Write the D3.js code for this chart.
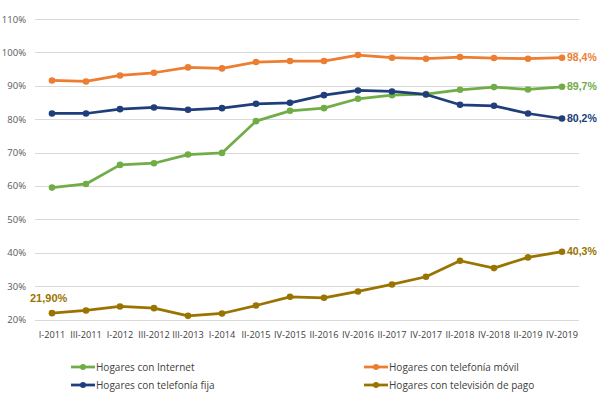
<!DOCTYPE html>
<html>
<head>
  <meta charset="utf-8">
  <title>Hogares con servicios</title>
  <style>
    body { margin: 0; background: #ffffff; }
    svg { font-family: "Open Sans", "Liberation Sans", sans-serif; }
  </style>
</head>
<body>
  <div id="chart"></div>

  <script src="https://d3js.org/d3.v7.min.js"></script>
  <script>
    // Periods on the x axis
    var periods = ["I-2011", "III-2011", "I-2012", "III-2012", "III-2013", "I-2014",
      "II-2015", "IV-2015", "II-2016", "IV-2016", "II-2017", "IV-2017",
      "II-2018", "IV-2018", "II-2019", "IV-2019"];

    // Series values (percent)
    var internet = [59.5, 60.6, 66.3, 66.8, 69.4, 69.9, 79.4, 82.5, 83.3, 86.1, 87.2, 87.5, 88.8, 89.6, 88.9, 89.7];
    var movil = [91.6, 91.3, 93.1, 93.9, 95.5, 95.2, 97.1, 97.4, 97.4, 99.2, 98.4, 98.1, 98.6, 98.3, 98.1, 98.4];
    var fija = [81.7, 81.7, 83.0, 83.5, 82.8, 83.3, 84.6, 84.9, 87.2, 88.6, 88.3, 87.4, 84.3, 84.0, 81.7, 80.2];
    var pago = [21.9, 22.7, 23.9, 23.4, 21.1, 21.8, 24.2, 26.8, 26.5, 28.4, 30.5, 32.8, 37.6, 35.4, 38.6, 40.3];

    var yTicks = [20, 30, 40, 50, 60, 70, 80, 90, 100, 110];

    var series = [
      { name: "Hogares con Internet", values: internet, color: "#70ad47", end: "89,7%" },
      { name: "Hogares con telefonía móvil", values: movil, color: "#ed7d31", end: "98,4%" },
      { name: "Hogares con telefonía fija", values: fija, color: "#203f7a", end: "80,2%" },
      { name: "Hogares con televisión de pago", values: pago, color: "#9a7400", end: "40,3%" }
    ];

    var width = 600, height = 395;

    var svg = d3.select("#chart")
      .append("svg")
      .attr("width", width)
      .attr("height", height);

    var x = d3.scaleBand()
      .domain(periods)
      .range([35, 579]);

    var y = d3.scaleLinear()
      .domain([20, 110])
      .range([319.5, 19]);

    // Gridlines
    svg.append("g")
      .selectAll("line")
      .data(yTicks)
      .enter()
      .append("line")
      .attr("x1", 35)
      .attr("x2", 579)
      .attr("y1", function(d) { return Math.round(y(d)) + 0.5; })
      .attr("y2", function(d) { return Math.round(y(d)) + 0.5; })
      .attr("stroke", "#d9d9d9")
      .attr("stroke-width", 1);

    // Y axis labels
    var yAxis = d3.axisLeft(y)
      .tickValues(yTicks)
      .tickSize(0)
      .tickPadding(4)
      .tickFormat(function(d) { return d + "%"; });

    svg.append("g")
      .attr("transform", "translate(30,0)")
      .call(yAxis)
      .call(function(g) { g.select(".domain").remove(); })
      .selectAll("text")
      .attr("fill", "#595959")
      .style("font-size", "9.5px")
      .style("font-family", "'Open Sans', sans-serif");

    // X axis labels
    var xAxis = d3.axisBottom(x).tickSize(0).tickPadding(0);

    svg.append("g")
      .attr("transform", "translate(0,331)")
      .call(xAxis)
      .call(function(g) { g.select(".domain").remove(); })
      .selectAll("text")
      .attr("fill", "#404040")
      .style("font-size", "9.2px")
      .style("font-family", "'Open Sans', sans-serif");

    var cx = function(d, i) { return x(periods[i]) + x.bandwidth() / 2; };

    var line = d3.line()
      .x(function(d, i) { return cx(d, i); })
      .y(function(d) { return y(d); });

    // Lines and markers
    series.forEach(function(s) {
      var g = svg.append("g");
      g.append("path")
        .datum(s.values)
        .attr("d", line)
        .attr("fill", "none")
        .attr("stroke", s.color)
        .attr("stroke-width", 2.75)
        .attr("stroke-linejoin", "round");

      g.selectAll("circle")
        .data(s.values)
        .enter()
        .append("circle")
        .attr("cx", cx)
        .attr("cy", function(d) { return y(d); })
        .attr("r", 3.3)
        .attr("fill", s.color);

      var last = s.values.length - 1;
      g.append("text")
        .attr("x", cx(null, last) + 5)
        .attr("y", y(s.values[last]))
        .attr("dy", "0.35em")
        .attr("fill", s.color)
        .style("font-size", "10.5px")
        .style("font-weight", "bold")
        .style("font-family", "'Liberation Sans', sans-serif")
        .text(s.end);
    });

    // First value label of televisión de pago
    svg.append("text")
      .attr("x", 30)
      .attr("y", y(pago[0]) - 11)
      .attr("fill", "#9a7400")
      .style("font-size", "11px")
      .style("font-weight", "bold")
      .style("font-family", "'Liberation Sans', sans-serif")
      .text("21,90%");

    // Legend
    var legendPos = [
      { x: 71, y: 367 },
      { x: 364, y: 367 },
      { x: 71, y: 385 },
      { x: 364, y: 385 }
    ];

    series.forEach(function(s, i) {
      var p = legendPos[i];
      var lg = svg.append("g").attr("transform", "translate(" + p.x + "," + p.y + ")");
      lg.append("line")
        .attr("x1", 0).attr("x2", 24)
        .attr("y1", 0).attr("y2", 0)
        .attr("stroke", s.color)
        .attr("stroke-width", 2.75);
      lg.append("circle")
        .attr("cx", 12).attr("cy", 0).attr("r", 3)
        .attr("fill", s.color);
      lg.append("text")
        .attr("x", 25)
        .attr("y", 0)
        .attr("dy", "0.35em")
        .attr("fill", "#404040")
        .style("font-size", "10px")
        .text(s.name);
    });
  </script>
</body>
</html>
